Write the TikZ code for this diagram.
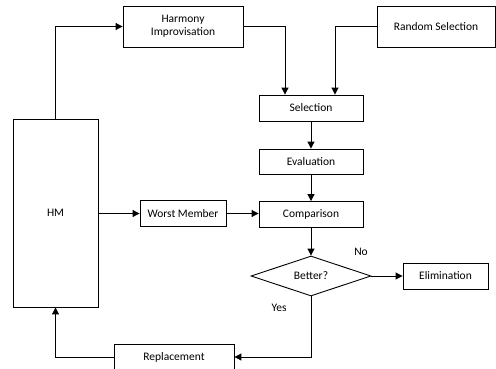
\documentclass[tikz,border=0pt]{standalone}
\usepackage{fontspec}
\setmainfont{Carlito}
\usetikzlibrary{shapes.geometric,arrows.meta}
\begin{document}
\begin{tikzpicture}[x=1pt,y=-1pt,
  box/.style={draw,line width=0.9pt,inner sep=0pt,align=center,font=\fontsize{11.5}{13}\selectfont},
  arr/.style={line width=1pt,-{Triangle[length=7pt,width=7pt]}},
  lbl/.style={font=\fontsize{11.5}{13}\selectfont}]
\useasboundingbox (0,0) rectangle (496,368);
\clip (0,0) rectangle (496,368);
\node[box,minimum width=120pt,minimum height=41pt] (harm) at (183,26.5) {Harmony\\Improvisation};
\node[box,minimum width=118pt,minimum height=41pt] (rand) at (436,26.5) {Random Selection};
\node[box,minimum width=104pt,minimum height=26pt] (sel) at (311,108) {Selection};
\node[box,minimum width=104pt,minimum height=25pt] (eval) at (311,161.5) {Evaluation};
\node[box,minimum width=104pt,minimum height=26pt] (comp) at (311,214.5) {Comparison};
\node[box,minimum width=86pt,minimum height=26pt] (worst) at (183,213.5) {Worst Member};
\node[box,minimum width=85pt,minimum height=188pt] (hm) at (55.5,213) {HM};
\node[box,diamond,shape aspect=3,minimum width=120pt,minimum height=40pt] (better) at (311,276) {Better?};
\node[box,minimum width=85pt,minimum height=26pt] (elim) at (445.5,276) {Elimination};
\node[box,minimum width=120pt,minimum height=26pt] (repl) at (174,357) {Replacement};
\node[lbl] (no) at (361,252) {No};
\node[lbl] (yes) at (279,308) {Yes};
\draw[arr] (hm.north) |- (harm.west);
\draw[arr] (harm.east) -| ([xshift=-26pt]sel.north);
\draw[arr] (rand.west) -| ([xshift=24pt]sel.north);
\draw[arr] (sel.south) -- (eval.north);
\draw[arr] (eval.south) -- (comp.north);
\draw[arr] (comp.south) -- (better.north);
\draw[arr] (hm.east |- worst.west) -- (worst.west);
\draw[arr] (worst.east) -- (worst.east -| comp.west);
\draw[arr] (better.east) -- (elim.west);
\draw[arr] (better.south) |- (repl.east);
\draw[arr] (repl.west) -| (hm.south);
\end{tikzpicture}
\end{document}
